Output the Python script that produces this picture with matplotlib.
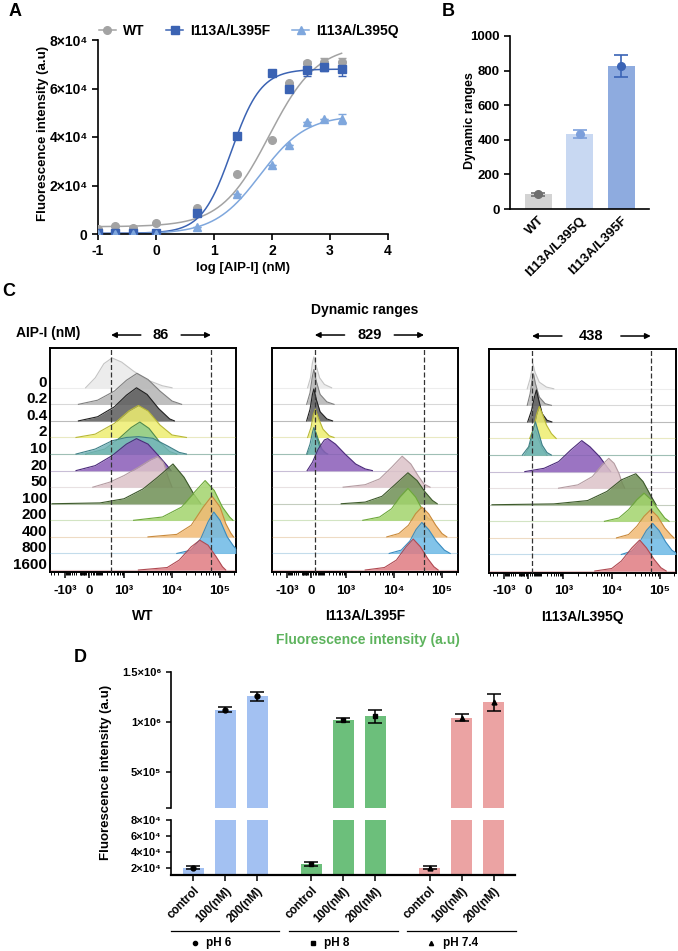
import numpy as np
import matplotlib
matplotlib.use("Agg")
import matplotlib.pyplot as plt
from matplotlib.transforms import blended_transform_factory

plt.rcParams['font.family'] = ['Liberation Sans', 'DejaVu Sans']
plt.rcParams['font.weight'] = 'bold'
plt.rcParams['axes.labelweight'] = 'bold'
plt.rcParams['axes.linewidth'] = 1.2
plt.rcParams['axes.unicode_minus'] = False

# ---------------- data ----------------
# A: dose response
log_conc = [-1, -0.7, -0.4, 0, 0.7, 1.4, 2.0, 2.3, 2.6, 2.9, 3.2]
wt_mean = [2100, 3200, 2500, 4500, 10700, 24600, 38700, 62400, 70400, 71000, 71000]
wt_err = [0, 0, 0, 0, 0, 0, 0, 0, 1000, 1500, 1500]
f_mean = [400, 400, 400, 500, 8600, 40500, 66300, 59800, 67600, 68700, 68000]
f_err = [0, 0, 0, 0, 0, 0, 0, 0, 2500, 1500, 3000]
q_mean = [0, 0, 0, 0, 2700, 16500, 28500, 36800, 46000, 47500, 47500]
q_err = [0, 0, 0, 0, 0, 0, 0, 0, 0, 0, 2000]
# fitted curves: bottom, top, logEC50, hill slope
wt_fit = (3000, 78000, 1.95, 1.05)
f_fit = (300, 68000, 1.3, 1.7)
q_fit = (0, 49000, 1.8, 1.1)

# B: dynamic ranges
b_names = ['WT', 'I113A/L395Q', 'I113A/L395F']
b_mean = [85, 435, 827]
b_err = [10, 22, 65]

# C: flow histograms (x in display decades, height in row units)
aip_labels = ['0', '0.2', '0.4', '2', '10', '20', '50', '100', '200', '400', '800', '1600']
hist_rows = [0, 1, 2, 3, 4, 4, 5, 6, 7, 8, 9, 10, 11]
hist_fill = ['#e9e9e9', '#b4b4b4', '#5c5c5c', '#eeee70', '#8ccb8c', '#72b5ba', '#8a5cb8',
             '#dcc2c8', '#6f8f55', '#a2d46c', '#f2ba74', '#6cb9e6', '#e07b82']
hist_edge = ['#c4c4c4', '#808080', '#202020', '#b8b836', '#4e8a4e', '#3f8087', '#4b2a7a',
             '#b49ca2', '#3d5a2b', '#6da83a', '#c98a3c', '#3a8cc0', '#b04a52']
wt_hist = [
    [(2.20, 0), (2.40, 0.6), (2.58, 1.45), (2.75, 1.8), (2.95, 1.55), (3.2, 1.0), (3.5, 0.45), (3.8, 0.12), (4.0, 0)],
    [(2.05, 0), (2.45, 0.25), (2.8, 0.8), (3.05, 1.45), (3.27, 1.87), (3.5, 1.5), (3.75, 0.8), (4.0, 0.2), (4.2, 0)],
    [(2.05, 0), (2.45, 0.25), (2.8, 0.85), (3.05, 1.55), (3.26, 2.0), (3.48, 1.6), (3.72, 0.75), (3.95, 0.12), (4.05, 0)],
    [(2.0, 0), (2.4, 0.2), (2.8, 0.85), (3.1, 1.6), (3.3, 1.93), (3.5, 1.6), (3.75, 0.75), (4.0, 0.15), (4.3, 0)],
    [(2.2, 0), (2.6, 0.3), (2.9, 0.95), (3.15, 1.6), (3.33, 1.93), (3.52, 1.55), (3.75, 0.7), (3.95, 0.15), (4.1, 0)],
    [(2.0, 0), (2.4, 0.3), (2.75, 0.8), (3.05, 1.0), (3.3, 1.05), (3.6, 0.95), (3.9, 0.5), (4.15, 0.1), (4.3, 0)],
    [(2.0, 0), (2.4, 0.3), (2.75, 0.9), (3.05, 1.6), (3.26, 1.93), (3.5, 1.6), (3.72, 0.9), (3.9, 0.3), (3.98, 0)],
    [(2.35, 0), (2.7, 0.3), (3.0, 0.7), (3.3, 1.2), (3.55, 1.65), (3.7, 1.85), (3.82, 1.5), (3.92, 0.6), (4.0, 0)],
    [(1.5, 0), (2.5, 0.05), (3.0, 0.3), (3.4, 0.9), (3.7, 1.6), (4.02, 2.4), (4.25, 1.6), (4.45, 0.6), (4.6, 0)],
    [(3.2, 0), (3.8, 0.2), (4.2, 0.8), (4.5, 1.8), (4.69, 2.4), (4.88, 1.8), (5.05, 0.8), (5.2, 0.2), (5.27, 0)],
    [(3.5, 0), (4.1, 0.15), (4.4, 0.7), (4.65, 1.8), (4.83, 2.47), (5.0, 1.8), (5.12, 0.8), (5.22, 0.25), (5.28, 0)],
    [(4.1, 0), (4.4, 0.2), (4.6, 0.9), (4.75, 1.9), (4.87, 2.5), (5.0, 2.0), (5.15, 1.0), (5.28, 0.45), (5.33, 0.3)],
    [(3.3, 0), (3.9, 0.15), (4.15, 0.6), (4.4, 1.4), (4.58, 1.8), (4.75, 1.5), (4.92, 0.8), (5.05, 0.2), (5.12, 0)],
]
f_hist = [
    [(2.2, 0), (2.26, 0.6), (2.3, 1.5), (2.33, 1.86), (2.38, 1.3), (2.45, 0.6), (2.55, 0.2), (2.7, 0)],
    [(2.18, 0), (2.25, 0.7), (2.3, 1.7), (2.33, 2.1), (2.38, 1.4), (2.46, 0.6), (2.6, 0.15), (2.75, 0)],
    [(2.18, 0), (2.25, 0.7), (2.3, 1.6), (2.33, 1.93), (2.38, 1.3), (2.46, 0.55), (2.6, 0.12), (2.72, 0)],
    [(2.2, 0), (2.27, 0.6), (2.32, 1.4), (2.36, 1.7), (2.42, 1.2), (2.52, 0.5), (2.65, 0.1), (2.75, 0)],
    [(2.2, 0), (2.28, 0.5), (2.33, 1.2), (2.36, 1.4), (2.42, 0.9), (2.5, 0.3), (2.6, 0)],
    [(2.18, 0), (2.25, 0.6), (2.3, 1.3), (2.33, 1.6), (2.38, 1.1), (2.45, 0.45), (2.55, 0.1), (2.62, 0)],
    [(2.19, 0), (2.3, 0.5), (2.42, 1.3), (2.55, 1.85), (2.62, 1.93), (2.78, 1.6), (2.98, 1.0), (3.2, 0.4), (3.4, 0.1), (3.55, 0)],
    [(2.94, 0), (3.4, 0.15), (3.7, 0.5), (3.95, 1.2), (4.17, 1.87), (4.35, 1.4), (4.5, 0.7), (4.62, 0.2), (4.75, 0)],
    [(2.9, 0), (3.4, 0.1), (3.75, 0.45), (4.0, 1.1), (4.29, 1.87), (4.48, 1.4), (4.65, 0.7), (4.8, 0.2), (4.9, 0)],
    [(3.35, 0), (3.7, 0.2), (3.95, 0.7), (4.12, 1.4), (4.29, 1.93), (4.45, 1.4), (4.58, 0.7), (4.7, 0.15), (4.78, 0)],
    [(3.85, 0), (4.1, 0.2), (4.3, 0.7), (4.45, 1.4), (4.58, 1.8), (4.72, 1.4), (4.87, 0.7), (5.0, 0.2), (5.1, 0)],
    [(3.9, 0), (4.15, 0.2), (4.33, 0.75), (4.46, 1.45), (4.58, 1.87), (4.72, 1.45), (4.88, 0.75), (5.05, 0.2), (5.17, 0)],
    [(3.4, 0), (3.8, 0.15), (4.05, 0.6), (4.25, 1.4), (4.4, 1.87), (4.55, 1.4), (4.7, 0.7), (4.83, 0.2), (4.92, 0)],
]
q_hist = [
    [(2.25, 0), (2.31, 0.6), (2.35, 1.2), (2.37, 1.5), (2.41, 1.0), (2.5, 0.4), (2.65, 0.1), (2.8, 0)],
    [(2.25, 0), (2.31, 0.7), (2.35, 1.5), (2.38, 1.9), (2.42, 1.3), (2.5, 0.5), (2.62, 0.1), (2.75, 0)],
    [(2.26, 0), (2.34, 0.7), (2.4, 1.5), (2.44, 1.93), (2.49, 1.3), (2.56, 0.5), (2.66, 0.1), (2.76, 0)],
    [(2.3, 0), (2.38, 0.6), (2.45, 1.5), (2.5, 1.93), (2.56, 1.5), (2.65, 0.8), (2.75, 0.3), (2.85, 0)],
    [(2.2, 0), (2.3, 0.5), (2.37, 1.2), (2.42, 1.5), (2.48, 1.0), (2.56, 0.4), (2.66, 0)],
    [(2.15, 0), (2.28, 0.5), (2.36, 1.4), (2.42, 2.0), (2.48, 1.4), (2.56, 0.6), (2.66, 0.15), (2.75, 0)],
    [(2.2, 0), (2.6, 0.2), (2.9, 0.6), (3.15, 1.3), (3.38, 1.87), (3.55, 1.5), (3.75, 0.9), (3.9, 0.3), (3.98, 0)],
    [(2.9, 0), (3.3, 0.2), (3.6, 0.7), (3.8, 1.4), (3.94, 1.8), (4.05, 1.5), (4.15, 0.9), (4.22, 0.3), (4.27, 0)],
    [(1.52, 0), (2.8, 0.05), (3.5, 0.25), (3.9, 0.8), (4.2, 1.5), (4.5, 1.87), (4.65, 1.4), (4.8, 0.6), (4.92, 0)],
    [(3.85, 0), (4.15, 0.2), (4.35, 0.7), (4.52, 1.3), (4.67, 1.7), (4.82, 1.3), (4.97, 0.7), (5.1, 0.2), (5.19, 0)],
    [(4.1, 0), (4.35, 0.2), (4.52, 0.7), (4.67, 1.3), (4.81, 1.7), (4.95, 1.3), (5.1, 0.6), (5.22, 0.2), (5.29, 0)],
    [(4.2, 0), (4.42, 0.2), (4.58, 0.75), (4.72, 1.45), (4.85, 1.87), (4.98, 1.45), (5.12, 0.75), (5.25, 0.25), (5.33, 0.1)],
    [(3.65, 0), (4.0, 0.15), (4.2, 0.6), (4.42, 1.4), (4.58, 1.87), (4.72, 1.4), (4.88, 0.7), (5.02, 0.2), (5.13, 0)],
]
c_names = ['WT', 'I113A/L395F', 'I113A/L395Q']
c_ranges = ['86', '829', '438']
c_gates = [(2.73, 4.81), (2.35, 4.625), (2.35, 4.81)]

# D: pH comparison
d_groups = ['pH 6', 'pH 8', 'pH 7.4']
d_conds = ['control', '100(nM)', '200(nM)']
d_mean = [[2.0e4, 1.125e6, 1.26e6], [2.5e4, 1.02e6, 1.06e6], [2.0e4, 1.045e6, 1.2e6]]
d_err = [[2e3, 2.5e4, 4.5e4], [2.5e3, 2e4, 6.5e4], [2e3, 3.5e4, 8.5e4]]
d_colors = ['#a3c1f2', '#6cbf7b', '#eba3a3']
d_markers = ['o', 's', '^']

# ---------------- figure ----------------
W, H = 678, 951
fig = plt.figure(figsize=(W / 100, H / 100), dpi=100)


def box(l, t, r, b):
    return [l / W, 1 - b / H, (r - l) / W, (b - t) / H]


def ftext(x, y, s, **kw):
    fig.text(x / W, 1 - y / H, s, **kw)


def logistic(x, p):
    bottom, top, ec50, hill = p
    return bottom + (top - bottom) / (1 + 10 ** ((ec50 - x) * hill))


# ---- A ----
axA = fig.add_axes(box(98, 40, 388, 234))
xs = np.linspace(-1, 3.2, 200)
seriesA = [('WT', wt_mean, wt_err, wt_fit, '#a3a3a3', 'o'),
           ('I113A/L395F', f_mean, f_err, f_fit, '#3b63b3', 's'),
           ('I113A/L395Q', q_mean, q_err, q_fit, '#7fa7dd', '^')]
handles = []
for name, m, e, p, col, mk in seriesA:
    axA.plot(xs, logistic(xs, p), color=col, lw=1.1, zorder=2)
    axA.errorbar(log_conc, m, yerr=e, fmt='none', ecolor=col, elinewidth=1, capsize=3, zorder=3)
    axA.plot(log_conc, m, mk, color=col, ms=5.5, zorder=4)
    h, = axA.plot([], [], marker=mk, color=col, ms=5.5, lw=1.1, label=name)
    handles.append(h)
axA.set_xlim(-1, 4)
axA.set_ylim(0, 80000)
axA.set_xticks([-1, 0, 1, 2, 3, 4])
axA.set_yticks([0, 20000, 40000, 60000, 80000])
axA.set_yticklabels(['0', '2×10⁴', '4×10⁴', '6×10⁴', '8×10⁴'])
for s in ['top', 'right']:
    axA.spines[s].set_visible(False)
axA.tick_params(labelsize=10, width=1.2, length=4)
axA.legend(handles=handles, loc='lower center', bbox_to_anchor=(0.52, 0.98), ncol=3,
           frameon=False, fontsize=10, handlelength=1.2, handletextpad=0.5, columnspacing=1.6,
           borderaxespad=0)
ftext(243, 268, 'log [AIP-I] (nM)', ha='center', va='center', fontsize=9.5)
ftext(43, 133, 'Fluorescence intensity (a.u)', ha='center', va='center', rotation=90, fontsize=9.5)

# ---- B ----
axB = fig.add_axes(box(510, 36, 649, 209))
b_bar = ['#d3d3d3', '#c8d8f2', '#8eabdf']
b_pt = ['#6e6e6e', '#7c9fdb', '#3a63b5']
xb = np.arange(len(b_names))
axB.bar(xb, b_mean, width=0.65, color=b_bar, zorder=1)
for i in range(len(b_names)):
    axB.errorbar(xb[i], b_mean[i], yerr=b_err[i], fmt='o', color=b_pt[i], ms=5.5,
                 elinewidth=1.2, capsize=5, capthick=1.2, zorder=3)
axB.set_xlim(-0.675, 2.67)
axB.set_ylim(0, 1000)
axB.set_yticks([0, 200, 400, 600, 800, 1000])
axB.set_xticks(xb)
axB.set_xticklabels(b_names, rotation=45, ha='right', rotation_mode='anchor')
for s in ['top', 'right']:
    axB.spines[s].set_visible(False)
axB.tick_params(labelsize=9.5, width=1.2, length=4)
axB.tick_params(axis='x', length=0, pad=4)
ftext(470, 121, 'Dynamic ranges', ha='center', va='center', rotation=90, fontsize=9)

# ---- C ----
c_boxes = [(50, 348, 236, 572), (272, 348, 458, 572), (489, 349, 676, 573)]
c_hists = [wt_hist, f_hist, q_hist]
major_u = [1.77, 2.27, 3, 4, 5]
major_lab = ['-10³', '0', '10³', '10⁴', '10⁵']
pos_v = [10, 20, 30, 40, 50, 60, 70, 80, 90, 100, 200, 300, 400, 500, 600, 700, 800, 900]
minor_u = [2.27 + 0.73 * np.log10(1 + v / 50) / np.log10(21) for v in pos_v]
minor_u += [2.27 - 0.5 * np.log10(1 + v / 50) / np.log10(21) for v in pos_v]
for d in (3, 4):
    minor_u += [d + np.log10(k) for k in range(2, 10)]
minor_u += [5 + np.log10(2), 1.77 - 0.5 * np.log10(2), 1.77 - 0.5 * np.log10(3), 1.77 - 0.5 * np.log10(4)]

for k in range(3):
    ax = fig.add_axes(box(*c_boxes[k]))
    hists = c_hists[k]
    for i, pts in enumerate(hists):
        base = 11 - hist_rows[i]
        u = [p[0] for p in pts]
        h = [p[1] for p in pts]
        ax.axhline(base, color=hist_edge[i], lw=0.8, alpha=0.3, zorder=i * 2)
        ax.fill_between(u, base, [base + v for v in h], color=hist_fill[i], alpha=0.85,
                        lw=0, zorder=i * 2 + 1)
        ax.plot(u, [base + v for v in h], color=hist_edge[i], lw=0.8, zorder=i * 2 + 1.5)
    g1, g2 = c_gates[k]
    for g in (g1, g2):
        ax.axvline(g, color='#333333', lw=0.9, ls=(0, (4, 2)), zorder=40)
    ax.set_xlim(1.458, 5.333)
    ax.set_ylim(-0.12, 13.4)
    ax.set_yticks([])
    ax.set_xticks(major_u)
    ax.set_xticklabels(major_lab)
    ax.set_xticks(minor_u, minor=True)
    ax.tick_params(axis='x', which='major', labelsize=9.5, width=1.1, length=4, pad=5)
    ax.tick_params(axis='x', which='minor', width=0.7, length=2.5)
    for s in ax.spines.values():
        s.set_linewidth(1.4)
    ax.set_xlabel(c_names[k], fontsize=10, labelpad=9)
    # dynamic range annotation
    tr = blended_transform_factory(ax.transData, ax.transAxes)
    mid = (g1 + g2) / 2
    ax.text(mid, 1.058, c_ranges[k], transform=tr, ha='center', va='center', fontsize=10.5)
    for tail, tip in ((g1 + 0.62, g1), (g2 - 0.62, g2)):
        ax.annotate('', xy=(tip, 1.058), xytext=(tail, 1.058), xycoords=tr, textcoords=tr,
                    arrowprops=dict(arrowstyle='-|>', color='black', lw=1.1,
                                    mutation_scale=8, shrinkA=0, shrinkB=0))
    if k == 0:
        for r, lab in enumerate(aip_labels):
            ax.text(-0.015, 11 - r + 0.3, lab, transform=blended_transform_factory(ax.transAxes, ax.transData),
                    ha='right', va='center', fontsize=11)

ftext(16, 333, 'AIP-I (nM)', ha='left', va='center', fontsize=10)
ftext(365, 310, 'Dynamic ranges', ha='center', va='center', fontsize=10)
ftext(368, 640, 'Fluorescence intensity (a.u)', ha='center', va='center', fontsize=10, color='#5db35d')

# ---- D ----
axU = fig.add_axes(box(171, 672, 515, 808))
axL = fig.add_axes(box(171, 820, 515, 875))
xpos = []
for g in range(3):
    for j in range(3):
        xpos.append(g * 3.7 + j)
for ax in (axU, axL):
    for g in range(3):
        xs_g = xpos[g * 3:g * 3 + 3]
        ax.bar(xs_g, d_mean[g], width=0.66, color=d_colors[g], zorder=1)
        ax.errorbar(xs_g, d_mean[g], yerr=d_err[g], fmt=d_markers[g], color='black', ms=3.5,
                    elinewidth=1.1, capsize=5, capthick=1.1, zorder=3)
    ax.set_xlim(-0.69, 10.06)
    for s in ['top', 'right']:
        ax.spines[s].set_visible(False)
    ax.tick_params(labelsize=8, width=1.1, length=3.5)
axU.set_ylim(1.4e5, 1.5e6)
axU.spines['bottom'].set_visible(False)
axU.set_xticks([])
axU.set_yticks([1.4e5, 5e5, 1e6, 1.5e6])
axU.set_yticklabels(['', '5×10⁵', '1×10⁶', '1.5×10⁶'])
axL.set_ylim(1.1e4, 8e4)
axL.set_yticks([2e4, 4e4, 6e4, 8e4])
axL.set_yticklabels(['2×10⁴', '4×10⁴', '6×10⁴', '8×10⁴'])
axL.spines['bottom'].set_linewidth(1.6)
axL.set_xticks(xpos)
axL.set_xticklabels(d_conds * 3, rotation=45, ha='right', rotation_mode='anchor', fontsize=8.5)
axL.tick_params(axis='x', length=4, pad=3)
trL = blended_transform_factory(axL.transData, axL.transAxes)
for g in range(3):
    c = g * 3.7 + 1
    axL.plot([c - 1.7, c + 1.7], [-1.02, -1.02], color='black', lw=0.9, transform=trL, clip_on=False)
    axL.plot([c - 0.95], [-1.24], d_markers[g], color='black', ms=3, transform=trL, clip_on=False)
    axL.text(c - 0.6, -1.24, d_groups[g], transform=trL, ha='left', va='center', fontsize=8.5)
ftext(106, 772, 'Fluorescence intensity (a.u)', ha='center', va='center', rotation=90, fontsize=9.5)

# panel letters
ftext(15, 12, 'A', ha='center', va='center', fontsize=13)
ftext(448, 12, 'B', ha='center', va='center', fontsize=13)
ftext(9, 292, 'C', ha='center', va='center', fontsize=13)
ftext(80, 658, 'D', ha='center', va='center', fontsize=13)

fig.savefig('out.png', dpi=100)
